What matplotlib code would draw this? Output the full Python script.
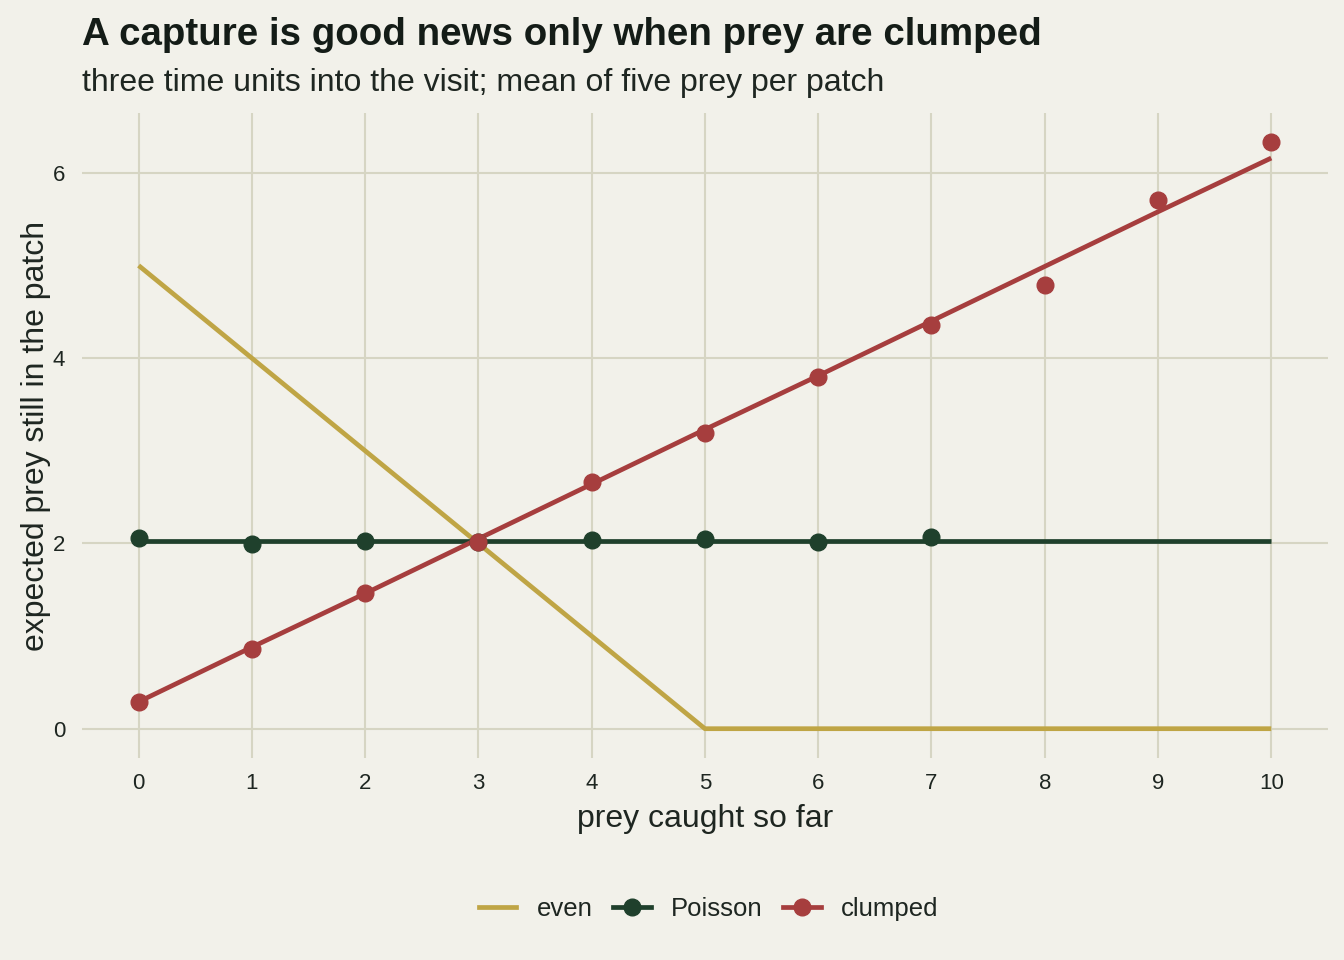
import matplotlib
matplotlib.use("Agg")
import matplotlib.pyplot as plt
from matplotlib.lines import Line2D

plt.rcParams['font.family'] = ['Liberation Sans', 'DejaVu Sans']

# data
caught = [0, 1, 2, 3, 4, 5, 6, 7, 8, 9, 10]
even_line = [5, 4, 3, 2, 1, 0, 0, 0, 0, 0, 0]
poisson_line = [2.03] * 11
poisson_pts_x = [0, 1, 2, 3, 4, 5, 6, 7]
poisson_pts = [2.06, 1.99, 2.03, 2.02, 2.04, 2.05, 2.01, 2.07]
clumped_line = [0.29, 0.88, 1.46, 2.05, 2.64, 3.23, 3.81, 4.40, 4.99, 5.58, 6.16]
clumped_pts = [0.29, 0.86, 1.46, 2.02, 2.66, 3.19, 3.80, 4.36, 4.79, 5.71, 6.33]
y_ticks = [0, 2, 4, 6]

BG = '#F2F1EA'
GRID = '#D6D5C3'
GOLD = '#BFA545'
GREEN = '#1F402C'
RED = '#A63E3E'
TXT = '#1E2621'

fig = plt.figure(figsize=(13.44, 9.6), dpi=100, facecolor=BG)
ax = fig.add_axes([0.061, 0.2104, 0.927, 0.6719], facecolor=BG)

LW = 3.4
MS = 12
ax.plot(caught, even_line, color=GOLD, lw=LW, solid_capstyle='butt', zorder=3)
ax.plot(caught, poisson_line, color=GREEN, lw=LW, solid_capstyle='butt', zorder=3)
ax.plot(poisson_pts_x, poisson_pts, 'o', color=GREEN, ms=MS, zorder=4)
ax.plot(caught, clumped_line, color=RED, lw=LW, solid_capstyle='butt', zorder=3)
ax.plot(caught, clumped_pts, 'o', color=RED, ms=MS, zorder=4)

ax.set_xlim(-0.5, 10.5)
ax.set_ylim(-0.3165, 6.6465)
ax.set_xticks(caught)
ax.set_yticks(y_ticks)
ax.grid(True, color=GRID, lw=1.5, zorder=0)
ax.tick_params(length=0, labelsize=16, labelcolor=TXT)
ax.tick_params(axis='x', pad=11)
ax.tick_params(axis='y', pad=12)
for s in ax.spines.values():
    s.set_visible(False)

ax.set_xlabel('prey caught so far', fontsize=23, color=TXT, labelpad=7)
ax.set_ylabel('expected prey still in the patch', fontsize=23, color=TXT, labelpad=1.5)

fig.text(0.061, 0.982, 'A capture is good news only when prey are clumped',
         fontsize=27.7, fontweight='bold', color='#141C17', va='top', ha='left')
fig.text(0.061, 0.929, 'three time units into the visit; mean of five prey per patch',
         fontsize=23, color=TXT, va='top', ha='left')

handles = [
    Line2D([], [], color=GOLD, lw=LW),
    Line2D([], [], color=GREEN, lw=LW, marker='o', ms=MS),
    Line2D([], [], color=RED, lw=LW, marker='o', ms=MS),
]
fig.legend(handles, ['even', 'Poisson', 'clumped'], loc='center',
           bbox_to_anchor=(0.5275, 0.053), ncol=3, frameon=False,
           fontsize=18.5, labelcolor=TXT, handlelength=1.45, columnspacing=0.8,
           handletextpad=0.8)

fig.savefig('out.png', dpi=100, facecolor=BG)
